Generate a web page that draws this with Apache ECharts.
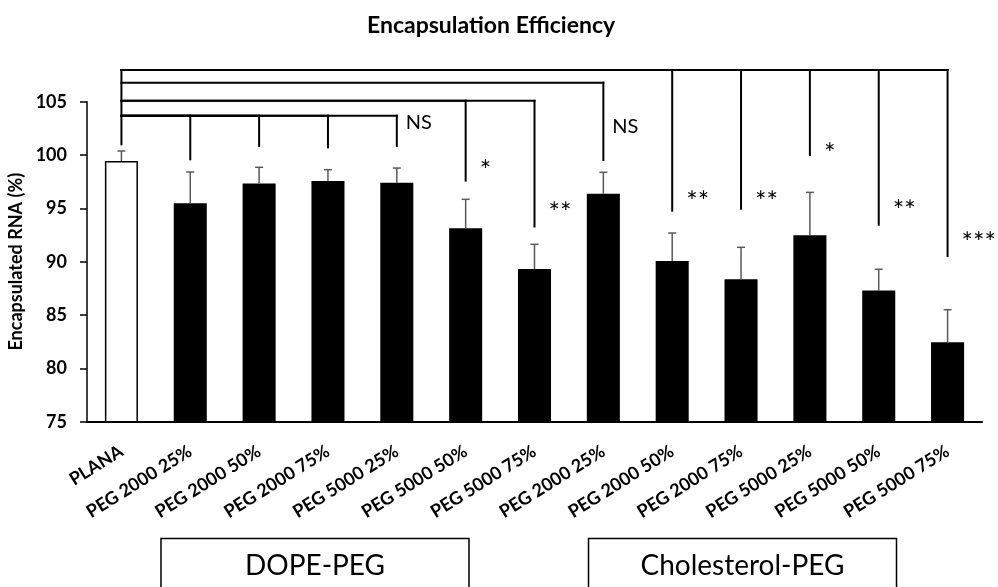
<!DOCTYPE html>
<html>
<head>
<meta charset="utf-8">
<script src="https://cdn.jsdelivr.net/npm/echarts@6/dist/echarts.min.js"></script>
<style>
  html, body { margin: 0; padding: 0; background: #fff; }
  #chart { width: 998px; height: 587px; }
</style>
</head>
<body>
<div id="chart"></div>
<script>
(function () {
    'use strict';

    var categories = [
        'PLANA', 'PEG 2000 25%', 'PEG 2000 50%', 'PEG 2000 75%', 'PEG 5000 25%', 'PEG 5000 50%', 'PEG 5000 75%',
        'PEG 2000 25%', 'PEG 2000 50%', 'PEG 2000 75%', 'PEG 5000 25%', 'PEG 5000 50%', 'PEG 5000 75%'
    ];
    var values = [99.44, 95.47, 97.32, 97.57, 97.41, 93.13, 89.32, 96.38, 90.07, 88.35, 92.47, 87.29, 82.44];
    var errors = [0.94, 2.94, 1.53, 1.06, 1.37, 2.72, 2.31, 2.0, 2.62, 3.0, 4.03, 2.0, 3.06];

    // Significance brackets: compared bar, bracket height, drop end, label and label height.
    var sigIndex = [0, 1, 2, 3, 4, 5, 6, 7, 8, 9, 10, 11, 12];
    var sigLevel = [107.97, 103.69, 103.69, 103.69, 103.69, 105.09, 105.09, 106.78, 107.97, 107.97, 107.97, 107.97, 107.97];
    var sigEnd = [101.0, 99.6, 100.85, 100.72, 100.85, 97.6, 93.3, 99.53, 94.78, 94.97, 100.0, 93.47, 90.53];
    var sigText = ['', '', '', '', 'NS', '*', '**', 'NS', '**', '**', '*', '**', '***'];
    var sigTextY = [0, 0, 0, 0, 103.03, 98.5, 94.55, 102.7, 95.6, 95.6, 100.1, 94.77, 91.74];

    var groupNames = ['DOPE-PEG', 'Cholesterol-PEG'];

    var FONT = 'Lato, "Open Sans", sans-serif';

    var chart = echarts.init(document.getElementById('chart'));

    var barData = values.map(function (v, i) {
        if (i === 0) return { value: v, itemStyle: { color: '#fff', borderColor: '#000', borderWidth: 1.5 } };
        return v;
    });

    var errData = values.map(function (v, i) { return [i, v, errors[i]]; });
    var sigData = sigIndex.map(function (c, i) { return [c, sigLevel[i], sigEnd[i], sigTextY[i]]; });

    function renderErr(params, api) {
        var x = api.value(0), v = api.value(1), e = api.value(2);
        var p0 = api.coord([x, v]);
        var p1 = api.coord([x, v + e]);
        var st = { stroke: '#595959', lineWidth: 1.5 };
        return {
            type: 'group',
            children: [
                { type: 'line', shape: { x1: p0[0], y1: p0[1], x2: p1[0], y2: p1[1] }, style: st },
                { type: 'line', shape: { x1: p1[0] - 4, y1: p1[1], x2: p1[0] + 4, y2: p1[1] }, style: st }
            ]
        };
    }

    function renderSig(params, api) {
        var i = params.dataIndex;
        var c = api.value(0), lv = api.value(1), end = api.value(2);
        var a = api.coord([0, lv]);
        var b = api.coord([c, lv]);
        var d = api.coord([c, end]);
        var st = { stroke: '#000', lineWidth: 2, lineCap: 'square' };
        var kids = [
            { type: 'line', shape: { x1: a[0], y1: a[1], x2: b[0], y2: b[1] }, style: st },
            { type: 'line', shape: { x1: b[0], y1: b[1], x2: d[0], y2: d[1] }, style: st }
        ];
        var txt = sigText[i];
        if (txt) {
            var ns = txt === 'NS';
            var t = api.coord([c, api.value(3)]);
            kids.push({
                type: 'text',
                x: t[0] + (ns ? 9 : 14),
                y: t[1],
                style: { text: txt, font: (ns ? '20px ' : '27px ') + FONT, fill: '#000', align: 'left', verticalAlign: 'middle' }
            });
        }
        return { type: 'group', children: kids };
    }

    var option = {
        animation: false,
        title: {
            text: 'Encapsulation Efficiency',
            left: 362,
            top: 9,
            textStyle: { fontFamily: FONT, fontSize: 23, fontWeight: 'bold', color: '#000' }
        },
        grid: { left: 87, right: 16, top: 101.7, bottom: 165.3, containLabel: false, outerBoundsMode: 'none' },
        xAxis: {
            type: 'category',
            data: categories,
            axisLine: { lineStyle: { color: '#000', width: 2 } },
            axisTick: { show: false },
            axisLabel: {
                rotate: 32, margin: 28, interval: 0,
                fontFamily: FONT, fontSize: 18, fontWeight: 'bold', color: '#000'
            }
        },
        yAxis: {
            type: 'value',
            min: 75, max: 105, interval: 5,
            name: 'Encapsulated RNA (%)',
            nameLocation: 'middle',
            nameGap: 53,
            nameTextStyle: { fontFamily: FONT, fontSize: 18, fontWeight: 'bold', color: '#000' },
            axisLine: { show: true, lineStyle: { color: '#000', width: 1.5 } },
            axisTick: { show: true, length: 7, lineStyle: { color: '#000', width: 1.5 } },
            axisLabel: { margin: 20, fontFamily: FONT, fontSize: 18, fontWeight: 'bold', color: '#000' },
            splitLine: { show: false }
        },
        series: [
            {
                type: 'bar',
                data: barData,
                barWidth: '48%',
                itemStyle: { color: '#000' }
            },
            {
                type: 'custom',
                data: errData,
                renderItem: renderErr,
                encode: { x: 0, y: [1, 2] },
                z: 3
            },
            {
                type: 'custom',
                data: sigData,
                renderItem: renderSig,
                encode: { x: 0, y: 1 },
                clip: false,
                z: 4
            }
        ],
        graphic: [
            { type: 'rect', shape: { x: 161, y: 538.5, width: 308, height: 60 }, style: { fill: 'none', stroke: '#000', lineWidth: 1.5 } },
            { type: 'text', x: 315, y: 566, style: { text: groupNames[0], font: '28px ' + FONT, fill: '#000', align: 'center', verticalAlign: 'middle' } },
            { type: 'rect', shape: { x: 588.5, y: 538.5, width: 308, height: 60 }, style: { fill: 'none', stroke: '#000', lineWidth: 1.5 } },
            { type: 'text', x: 742.5, y: 566, style: { text: groupNames[1], font: '28px ' + FONT, fill: '#000', align: 'center', verticalAlign: 'middle' } }
        ]
    };

    chart.setOption(option);
})();
</script>
</body>
</html>
